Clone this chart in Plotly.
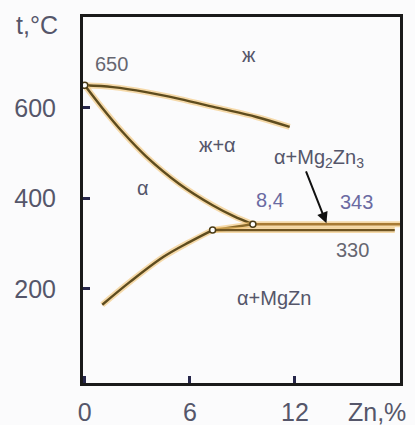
"""Mg-Zn phase diagram (Mg-rich side) rebuilt with Plotly."""

import plotly.graph_objects as go

# liquidus, solidus and solvus (Zn %, t °C)
liquidus_zn = [0, 1.6, 3.5, 5.4, 7.6, 9.8, 11.7]
liquidus_t = [650, 646, 635, 620, 600, 580, 558]

solidus_zn = [0, 1.0, 2.2, 3.5, 5.4, 7.3, 8.5, 9.6]
solidus_t = [650, 600, 545, 493, 432, 385, 361, 343]

solvus_zn = [1.0, 2.6, 4.5, 6.0, 7.3]
solvus_t = [165, 216, 271, 304, 330]

tie_zn = [7.3, 9.6]
tie_t = [330, 343]

eutectic_zn = [9.6, 18.0]
eutectic_t = [343, 343]

lower_zn = [7.3, 17.7]
lower_t = [330, 330]

point_zn = [0, 9.6, 7.3]
point_t = [650, 343, 330]

x_ticks = [0, 6, 12]
y_ticks = [200, 400, 600]

GLOW = "rgba(240, 190, 100, 0.55)"
CORE = "#5e4c1e"
TEXT = "#55566a"
BLUE_TEXT = "#6a6aa2"
FONT = "Liberation Sans, Arial, sans-serif"

fig = go.Figure()


def add_curve(xs, ys, core=CORE, shape="spline"):
    fig.add_trace(go.Scatter(x=xs, y=ys, mode="lines", line_shape=shape,
                             line={"color": GLOW, "width": 6},
                             hoverinfo="skip", showlegend=False))
    fig.add_trace(go.Scatter(x=xs, y=ys, mode="lines", line_shape=shape,
                             line={"color": core, "width": 2.4},
                             showlegend=False))


add_curve(liquidus_zn, liquidus_t)
add_curve(solidus_zn, solidus_t)
add_curve(solvus_zn, solvus_t)
add_curve(tie_zn, tie_t, core="#8a6a2a", shape="linear")
add_curve(eutectic_zn, eutectic_t, core="#a87a34", shape="linear")
add_curve(lower_zn, lower_t, core="#6e5422", shape="linear")

fig.add_trace(go.Scatter(
    x=point_zn, y=point_t, mode="markers", showlegend=False,
    marker={"size": 6, "color": "white", "line": {"color": "#4a3c18", "width": 1.5}},
))

labels = [
    (1.5, 697, "650", "#666670"),
    (9.4, 717, "ж", TEXT),
    (7.6, 518, "ж+α", TEXT),
    (3.3, 423, "α", TEXT),
    (13.4, 489, "α+Mg<sub>2</sub>Zn<sub>3</sub>", TEXT),
    (10.6, 397, "8,4", BLUE_TEXT),
    (15.5, 392, "343", BLUE_TEXT),
    (15.3, 286, "330", "#666670"),
    (10.8, 180, "α+MgZn", TEXT),
]
for x, y, text, color in labels:
    fig.add_annotation(x=x, y=y, text=text, showarrow=False,
                       font={"family": FONT, "size": 20, "color": color})

# arrow pointing at the 343 °C eutectic line
fig.add_annotation(x=13.8, y=345, ax=12.6, ay=463, axref="x", ayref="y",
                   text="", showarrow=True, arrowhead=2, arrowsize=1.1,
                   arrowwidth=2, arrowcolor="#111111")

# axis names sit outside the frame, placed in paper coordinates
fig.add_annotation(x=-0.145, y=0.978, xref="paper", yref="paper", text="t,°C",
                   xanchor="center", yanchor="middle", showarrow=False,
                   font={"family": FONT, "size": 25, "color": TEXT})
fig.add_annotation(x=0.927, y=-0.080, xref="paper", yref="paper", text="Zn,%",
                   xanchor="center", yanchor="middle", showarrow=False,
                   font={"family": FONT, "size": 25, "color": TEXT})

fig.update_layout(
    width=415, height=425,
    margin={"l": 83, "r": 15, "t": 17, "b": 42},
    paper_bgcolor="#fbfbfc", plot_bgcolor="#fbfbfc",
    font={"family": FONT, "size": 25, "color": TEXT},
)
fig.update_xaxes(range=[-0.1, 18], tickvals=x_ticks, ticks="inside", ticklen=7,
                 tickwidth=3, tickcolor="#26264a", showgrid=False, zeroline=False,
                 showline=True, mirror=True, linewidth=3, linecolor="#1a1a1a",
                 ticklabelstandoff=5, automargin=False)
fig.update_yaxes(range=[-8, 801], tickvals=y_ticks, ticks="inside", ticklen=7,
                 tickwidth=3, tickcolor="#26264a", showgrid=False, zeroline=False,
                 showline=True, mirror=True, linewidth=3, linecolor="#1a1a1a",
                 ticklabelstandoff=19, automargin=False)

# drop the browser's default body margin so the figure sits at the page corner
fig.write_html("out.html", config={"displayModeBar": False},
               post_script="document.body.style.margin = '0px';")
